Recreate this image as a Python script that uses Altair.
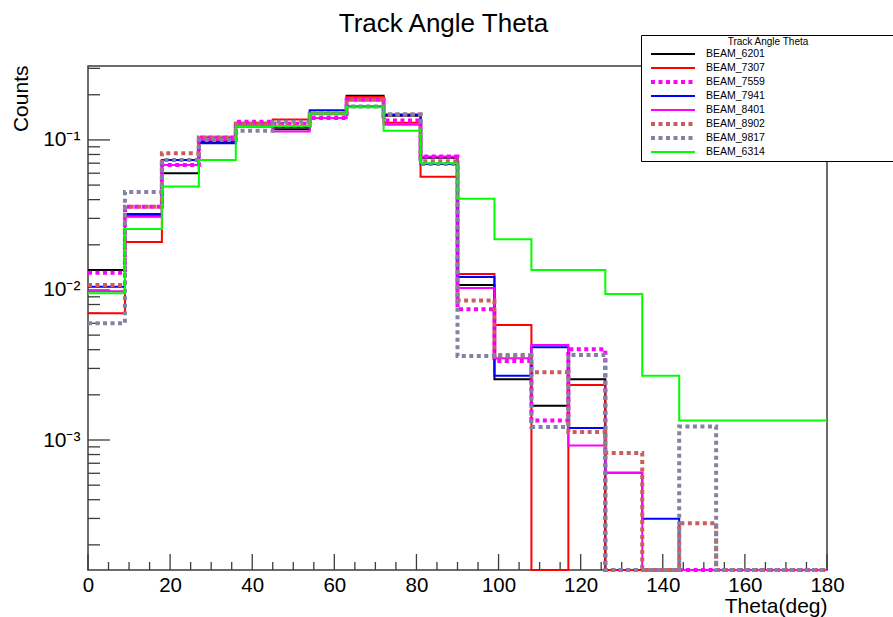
import altair as alt
import pandas as pd

# ---- histogram contents (normalised counts per 9-degree bin, 0..180 deg) ----
bin_edges = list(range(0, 181, 9))

series_names = ["BEAM_6201", "BEAM_7307", "BEAM_7559", "BEAM_7941",
                "BEAM_8401", "BEAM_8902", "BEAM_9817", "BEAM_6314"]
series_colors = ["#000000", "#ff0000", "#ff00ff", "#0000ff",
                 "#ff00ff", "#cd5c5c", "#8282a2", "#00ff00"]
series_dash = [[1, 0], [1, 0], [4, 3.5], [1, 0], [1, 0], [4, 3.5], [4, 3.5], [1, 0]]
series_width = [2, 2, 4, 2, 2, 4, 4, 2]

beam_6201 = [0.0136, 0.0310, 0.0600, 0.0970, 0.1250, 0.1180, 0.1500, 0.1970, 0.1450, 0.0760,
             0.0108, 0.00254, 0.00169, 0.00254, 0, 0, 0, 0, 0, 0]
beam_7307 = [0.0070, 0.0209, 0.0680, 0.1040, 0.1300, 0.1370, 0.1500, 0.1930, 0.1300, 0.0569,
             0.0128, 0.00584, 0, 0.00233, 0, 0, 0, 0, 0, 0]
beam_7559 = [0.0130, 0.0359, 0.0680, 0.1040, 0.1320, 0.1280, 0.1400, 0.1850, 0.1350, 0.0774,
             0.00743, 0.00336, 0.00135, 0.00402, 0, 0, 0, 0, 0, 0]
beam_7941 = [0.0105, 0.0321, 0.0736, 0.0950, 0.1230, 0.1220, 0.1580, 0.1670, 0.1480, 0.0690,
             0.0122, 0.00268, 0.00415, 0.00120, 0.000605, 0.000299, 0, 0, 0, 0]
beam_8401 = [0.0098, 0.0308, 0.0680, 0.1000, 0.1250, 0.1140, 0.1400, 0.1900, 0.1260, 0.0774,
             0.0103, 0.00350, 0.00430, 0.00092, 0.000605, 0, 0, 0, 0, 0]
beam_8902 = [0.0108, 0.0359, 0.0815, 0.1040, 0.1280, 0.1250, 0.1500, 0.1850, 0.1480, 0.0720,
             0.0085, 0.00360, 0.00283, 0.00113, 0.00082, 0, 0.000279, 0, 0, 0]
beam_9817 = [0.0060, 0.0450, 0.0736, 0.1000, 0.1150, 0.1320, 0.1500, 0.1670, 0.1480, 0.0690,
             0.00363, 0.00369, 0.00122, 0.00369, 0, 0, 0.00123, 0, 0, 0]
beam_6314 = [0.0095, 0.0255, 0.0489, 0.0736, 0.1230, 0.1240, 0.1500, 0.1650, 0.1150, 0.0700,
             0.0406, 0.0218, 0.0136, 0.0136, 0.0094, 0.00268, 0.00135, 0.00135, 0.00135, 0.00135]

series_values = [beam_6201, beam_7307, beam_7559, beam_7941,
                 beam_8401, beam_8902, beam_9817, beam_6314]

# axis ranges and ticks
y_min, y_max = 1.36e-4, 0.311
x_major = list(range(0, 181, 20))
x_minor = [v for v in range(0, 181, 5) if v % 20]
y_major = [1e-3, 1e-2, 1e-1]
y_major_text = ["10\u207b\u00b3", "10\u207b\u00b2", "10\u207b\u00b9"]
y_minor = [m * 10.0 ** e for e in (-4, -3, -2, -1) for m in range(2, 10)
           if y_min <= m * 10.0 ** e <= y_max]

# step outline: one point per lower bin edge plus the closing edge at 180
rows = []
for name, vals in zip(series_names, series_values):
    for edge, v in zip(bin_edges, vals + [vals[-1]]):
        rows.append({"series": name, "theta": edge, "counts": v})
hist = pd.DataFrame(rows)

W, H = 739, 504
FONT = "Liberation Sans"
AX = "#3c3c3c"

x_scale = alt.Scale(domain=[0, 180], nice=False, zero=False)
y_scale = alt.Scale(type="log", domain=[y_min, y_max], nice=False)

label_expr = " : ".join(
    f"datum.value < {v * 3} ? '{t}'" for v, t in zip(y_major[:-1], y_major_text[:-1])
) + f" : '{y_major_text[-1]}'"

x_axis = alt.Axis(
    values=x_major, format="d", ticks=False, domain=False, grid=False,
    labelFont=FONT, labelFontSize=20.5, labelColor="black", labelPadding=5,
    labelFlush=False, title="Theta(deg)", titleFont=FONT, titleFontSize=21,
    titleFontWeight="normal", titleColor="black", titleAnchor="end",
    titleAlign="right", titleBaseline="alphabetic", titleX=W, titleY=42)
y_axis = alt.Axis(
    values=y_major, labelExpr=label_expr, ticks=False, domain=False, grid=False,
    labelFont=FONT, labelFontSize=21, labelColor="black", labelPadding=8,
    labelFlush=False, title="Counts", titleFont=FONT, titleFontSize=21,
    titleFontWeight="normal", titleColor="black", titleAngle=270,
    titleAlign="right", titleBaseline="alphabetic", titleX=-61, titleY=-1)

# legend box is widened with blank (braille pattern) glyphs after each label
legend_pad = "\u2800" * 16
legend = alt.Legend(
    title="Track Angle Theta", orient="none", legendX=553, legendY=-31,
    direction="vertical", titleFont=FONT, titleFontSize=10, titleFontWeight="normal",
    titleColor="black", titleAnchor="middle", titlePadding=0,
    labelFont=FONT, labelFontSize=10.5, labelColor="black", labelLimit=400,
    labelExpr=f"datum.label + '{legend_pad}'",
    symbolType="stroke", symbolSize=1936, symbolOffset=6, labelOffset=9,
    clipHeight=14, rowPadding=0, padding=2, fillColor="white",
    strokeColor="black", cornerRadius=0,
)

lines = alt.Chart(hist).transform_calculate(
    shown=f"datum.counts > 0 ? datum.counts : {y_min}"
).mark_line(interpolate="step-after", strokeJoin="miter", strokeCap="butt").encode(
    x=alt.X("theta:Q", scale=x_scale, axis=x_axis),
    y=alt.Y("shown:Q", scale=y_scale, axis=y_axis),
    color=alt.Color("series:N", sort=series_names,
                    scale=alt.Scale(domain=series_names, range=series_colors), legend=legend),
    strokeDash=alt.StrokeDash("series:N", sort=series_names,
                              scale=alt.Scale(domain=series_names, range=series_dash), legend=legend),
    strokeWidth=alt.StrokeWidth("series:N", sort=series_names,
                                scale=alt.Scale(type="ordinal", domain=series_names, range=series_width),
                                legend=legend),
)

# inward tick marks, ROOT style
x_major_ticks = alt.Chart(pd.DataFrame({"theta": x_major})).mark_rule(
    color=AX, strokeWidth=1.3).encode(
    x=alt.X("theta:Q", scale=x_scale, axis=x_axis), y=alt.value(H), y2=alt.value(H - 16))
x_minor_ticks = alt.Chart(pd.DataFrame({"theta": x_minor})).mark_rule(
    color=AX, strokeWidth=1.3).encode(
    x=alt.X("theta:Q", scale=x_scale, axis=x_axis), y=alt.value(H), y2=alt.value(H - 8))
y_major_ticks = alt.Chart(pd.DataFrame({"shown": y_major})).mark_rule(
    color=AX, strokeWidth=1.3).encode(
    y=alt.Y("shown:Q", scale=y_scale, axis=y_axis), x=alt.value(0), x2=alt.value(22))
y_minor_ticks = alt.Chart(pd.DataFrame({"shown": y_minor})).mark_rule(
    color=AX, strokeWidth=1.3).encode(
    y=alt.Y("shown:Q", scale=y_scale, axis=y_axis), x=alt.value(0), x2=alt.value(12))

chart = alt.layer(
    x_major_ticks, x_minor_ticks, y_major_ticks, y_minor_ticks, lines
).properties(
    width=W, height=H,
    title=alt.TitleParams("Track Angle Theta", font=FONT, fontSize=26, fontWeight="normal",
                          color="black", anchor="middle", frame="group", dx=-14, dy=27,
                          baseline="alphabetic", offset=4),
    autosize=alt.AutoSizeParams(type="none"),
    padding={"left": 88, "top": 66, "right": 893 - 88 - W, "bottom": 617 - 66 - H},
    background="white",
).configure_view(stroke=AX, strokeWidth=1.5)

chart.save("out.html", embed_options={"renderer": "svg", "actions": False})
